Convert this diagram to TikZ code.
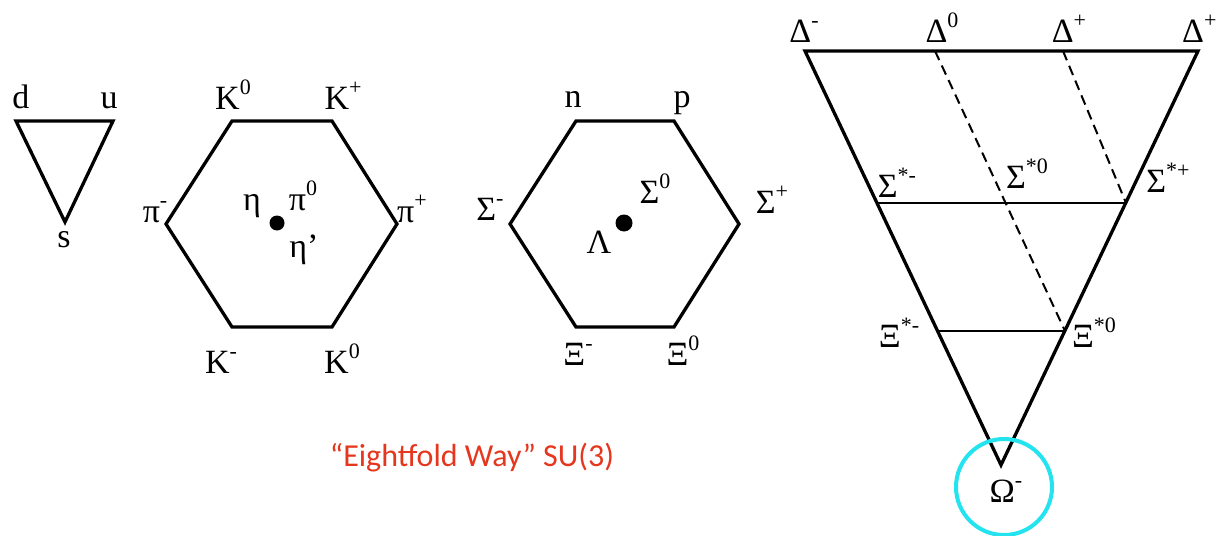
\documentclass[tikz,border=0pt]{standalone}
\usepackage{fontspec}
\setmainfont{Liberation Serif}
\newfontfamily\capfont{Carlito}
\usetikzlibrary{positioning,calc}
\definecolor{capred}{HTML}{E5361E}
\definecolor{omcyan}{HTML}{22E3EE}
\newcommand\hi[1]{\raisebox{0.42em}{\fontsize{22}{22}\selectfont #1}}

\begin{document}
\begin{tikzpicture}[
  x=1pt, y=-1pt,
  lbl/.style={font=\fontsize{34}{36}\selectfont, inner sep=0pt, anchor=base},
  rim/.style={draw, line width=3.3pt, line join=miter},
  rung/.style={draw, line width=2.4pt},
  dashline/.style={draw, line width=2pt, dash pattern=on 10pt off 6pt},
  blob/.style={circle, fill=black, inner sep=0pt}
]
  \useasboundingbox (0,0) rectangle (1217,535);

  % quark triplet
  \coordinate (qd) at (16,121);
  \coordinate (qu) at (113,121);
  \coordinate (qs) at (65,222);
  \draw[rim] (qd) -- (qu) -- (qs) -- cycle;
  \node[lbl] (ld) at (21,108) {d};
  \node[lbl] (lu) at (109,108) {u};
  \node[lbl] (ls) at (64,247) {s};

  % meson octet
  \coordinate (m1) at (232,121);
  \coordinate (m2) at (332,121);
  \coordinate (m3) at (397,224);
  \coordinate (m4) at (332,327);
  \coordinate (m5) at (232,327);
  \coordinate (m6) at (166,224);
  \draw[rim] (m1) -- (m2) -- (m3) -- (m4) -- (m5) -- (m6) -- cycle;
  \node[blob, minimum size=15pt] (mdot) at (277,223) {};
  \node[lbl] (kz) at (233,109) {K\hi{0}};
  \node[lbl] (kp) at (343,109) {K\hi{+}};
  \node[lbl] (pim) at (155,222) {π\hi{-}};
  \node[lbl] (pip) at (412,222) {π\hi{+}};
  \node[lbl] (eta) at (252,210) {η};
  \node[lbl] (piz) at (303,210) {π\hi{0}};
  \node[lbl] (etap) at (304,257) {η’};
  \node[lbl] (km) at (221,373) {K\hi{-}};
  \node[lbl] (kzb) at (342,373) {K\hi{0}};

  % baryon octet
  \coordinate (b1) at (576,121);
  \coordinate (b2) at (674,121);
  \coordinate (b3) at (739,224);
  \coordinate (b4) at (674,327);
  \coordinate (b5) at (576,327);
  \coordinate (b6) at (510,224);
  \draw[rim] (b1) -- (b2) -- (b3) -- (b4) -- (b5) -- (b6) -- cycle;
  \node[blob, minimum size=17pt] (bdot) at (624,223) {};
  \node[lbl] (nn) at (573,107) {n};
  \node[lbl] (pp) at (682,107) {p};
  \node[lbl] (sgm) at (490,220) {Σ\hi{-}};
  \node[lbl] (sgp) at (772,213) {Σ\hi{+}};
  \node[lbl] (sgz) at (655,203) {Σ\hi{0}};
  \node[lbl] (lam) at (599,253) {Λ};
  \node[lbl] (xim) at (578,365) {Ξ\hi{-}};
  \node[lbl] (xiz) at (683,365) {Ξ\hi{0}};

  % baryon decuplet
  \coordinate (dl) at (805,51);
  \coordinate (dr) at (1198,51);
  \coordinate (om) at (1001,465);
  \coordinate (sl) at (877,203);
  \coordinate (sr) at (1126,203);
  \coordinate (xl) at (938,331);
  \coordinate (xr) at (1065,331);
  \coordinate (d0) at (935,51);
  \coordinate (d1) at (1063,51);
  \draw[rim] (dl) -- (dr) -- (om) -- cycle;
  \draw[rung] (sl) -- (sr);
  \draw[rung] (xl) -- (xr);
  \draw[dashline] (d0) -- (xr);
  \draw[dashline] (d1) -- (sr);
  \node[lbl] (dm) at (804,42) {Δ\hi{-}};
  \node[lbl] (dz) at (942,42) {Δ\hi{0}};
  \node[lbl] (dp) at (1069,42) {Δ\hi{+}};
  \node[lbl, anchor=base west] (dpp) at (1182,42) {Δ\hi{++}};
  \node[lbl] (ssm) at (897,197) {Σ\hi{*-}};
  \node[lbl] (ssz) at (1027,188) {Σ\hi{*0}};
  \node[lbl] (ssp) at (1168,192) {Σ\hi{*+}};
  \node[lbl] (xsm) at (899,347) {Ξ\hi{*-}};
  \node[lbl] (xsz) at (1094,347) {Ξ\hi{*0}};
  \node[lbl] (omg) at (1006,502) {Ω\hi{-}};
  \node[draw=omcyan, line width=4pt, circle, minimum size=96pt] (ring) at (1004,487) {};

  \node[font=\capfont\fontsize{32}{36}\selectfont, text=capred, anchor=base, inner sep=0pt]
    (cap) at (472,466) {“Eightfold Way” SU(3)};
\end{tikzpicture}
\end{document}
